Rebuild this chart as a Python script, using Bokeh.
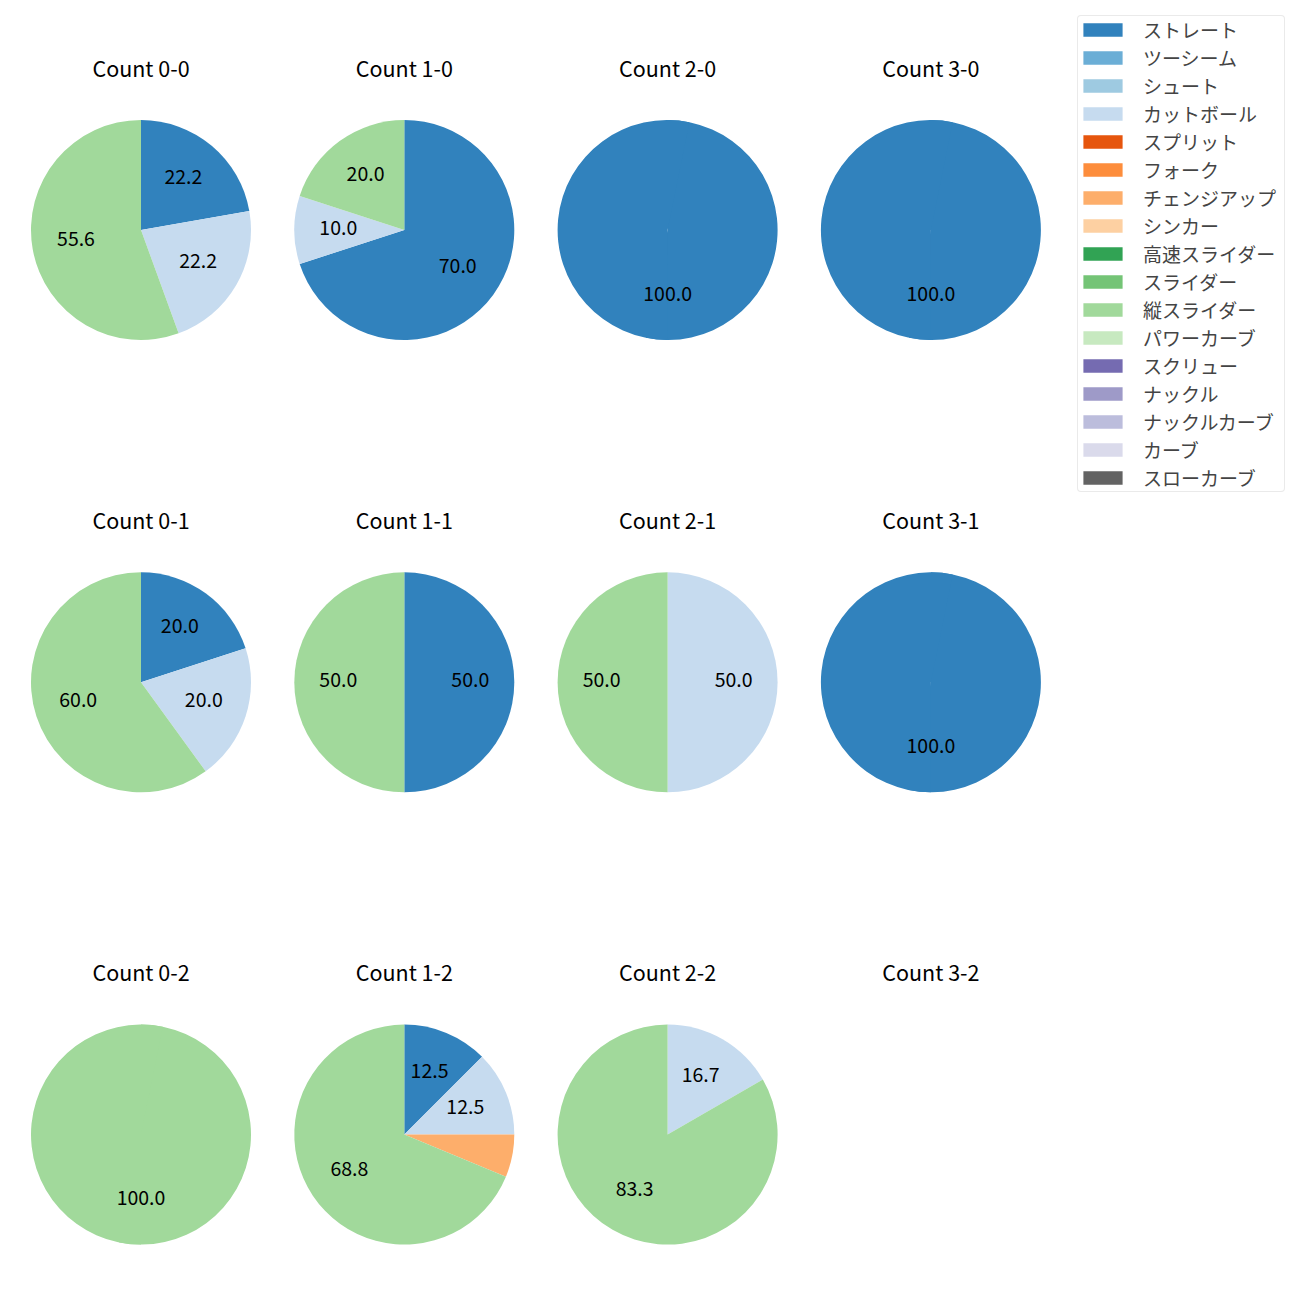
import math
from bokeh.plotting import figure
from bokeh.models import ColumnDataSource, Range1d, Legend, LegendItem
from bokeh.core.properties import value
from bokeh.embed import file_html
from bokeh.resources import INLINE

# ---------------- data ----------------
pitch_types = ["ストレート", "ツーシーム", "シュート", "カットボール", "スプリット", "フォーク",
               "チェンジアップ", "シンカー", "高速スライダー", "スライダー", "縦スライダー",
               "パワーカーブ", "スクリュー", "ナックル", "ナックルカーブ", "カーブ", "スローカーブ"]
counts = ["0-0", "1-0", "2-0", "3-0", "0-1", "1-1", "2-1", "3-1", "0-2", "1-2", "2-2", "3-2"]

# pitches thrown per count (types not listed are zero everywhere)
straight = [2, 7, 1, 1, 1, 1, 0, 1, 0, 2, 0, 0]
cutball  = [2, 1, 0, 0, 1, 0, 1, 0, 0, 2, 1, 0]
changeup = [0, 0, 0, 0, 0, 0, 0, 0, 0, 1, 0, 0]
vslider  = [5, 2, 0, 0, 3, 1, 1, 0, 1, 11, 5, 0]

series = {"ストレート": straight, "カットボール": cutball,
          "チェンジアップ": changeup, "縦スライダー": vslider}

# ---------------- style ----------------
palette = ["#3182bd", "#6baed6", "#9ecae1", "#c6dbef", "#e6550d", "#fd8d3c", "#fdae6b",
           "#fdd0a2", "#31a354", "#74c476", "#a1d99b", "#c7e9c0", "#756bb1", "#9e9ac8",
           "#bcbddc", "#dadaeb", "#636363"]
FONT_NAME = "Noto Sans CJK JP"
FONT = value(FONT_NAME)
W = H = 1292
PAGE = 1300
R = 110
col_x = [140.5 + 263.3 * i for i in range(4)]
row_py = [229.5 + 452.3 * j for j in range(3)]   # pixel rows (top-down)

p = figure(width=W, height=H, output_backend="svg", toolbar_location=None,
           x_axis_type=None, y_axis_type=None, min_border=0,
           x_range=Range1d(0, W), y_range=Range1d(PAGE - H, PAGE))
p.grid.visible = False
p.outline_line_color = None
p.background_fill_color = "white"
p.border_fill_color = "white"

wedge_data = {t: dict(x=[], y=[], start=[], end=[]) for t in pitch_types}
lab = dict(x=[], y=[], text=[])
ttl = dict(x=[], y=[], text=[])

for k, c in enumerate(counts):
    cx = col_x[k % 4]
    cy = PAGE - row_py[k // 4]
    ttl["x"].append(cx)
    ttl["y"].append(cy + 160.5)
    ttl["text"].append(f"Count {c}")
    total = sum(series[t][k] for t in series)
    if total == 0:
        continue
    cum = 0.0
    for t in pitch_types:
        if t not in series or series[t][k] == 0:
            continue
        frac = series[t][k] / total
        a0 = math.pi / 2 - 2 * math.pi * cum
        a1 = math.pi / 2 - 2 * math.pi * (cum + frac)
        am = math.pi / 2 - 2 * math.pi * (cum + frac / 2)
        if frac >= 1:
            # full circle: two overlapping halves so no seam shows
            parts = [(a0, a0 - math.pi - 0.2), (a0 - math.pi, a1 - 0.2)]
        else:
            parts = [(a0, a1)]
        for s, e in parts:
            wedge_data[t]["x"].append(cx)
            wedge_data[t]["y"].append(cy)
            wedge_data[t]["start"].append(s)
            wedge_data[t]["end"].append(e)
        pct = frac * 100
        if pct > 7:
            lab["x"].append(cx + 0.6 * R * math.cos(am))
            lab["y"].append(cy + 0.6 * R * math.sin(am))
            lab["text"].append(f"{pct:.1f}")
        cum += frac

items = []
nan = float("nan")
for t, col in zip(pitch_types, palette):
    p.wedge(x="x", y="y", radius=R, start_angle="start", end_angle="end",
            direction="clock", source=ColumnDataSource(wedge_data[t]),
            fill_color=col, line_color=None)
    key = p.rect(x=[nan], y=[nan], width=1, height=1, fill_color=col, line_color=None)
    items.append(LegendItem(label=t, renderers=[key]))

p.text(x="x", y="y", text="text", source=ColumnDataSource(lab),
       text_align="center", text_baseline="middle", text_font=FONT,
       text_font_size="19.5px", text_color="black", y_offset=-3)
p.text(x="x", y="y", text="text", source=ColumnDataSource(ttl),
       text_align="center", text_baseline="middle", text_font=FONT,
       text_font_size="21.5px", text_color="black", y_offset=-2.5)

legend = Legend(items=items, location=(1077, 800), margin=0, padding=0,
                spacing=1, glyph_width=49, glyph_height=17, label_height=20,
                label_width=141, label_standoff=16, label_text_font=FONT_NAME,
                label_text_font_size="19px",
                border_line_color="#d5d5d5", border_line_width=1,
                background_fill_alpha=1.0)
if "border_radius" in Legend.properties():
    legend.border_radius = 4
p.add_layout(legend)

open("out.html", "w").write(file_html(p, INLINE))
